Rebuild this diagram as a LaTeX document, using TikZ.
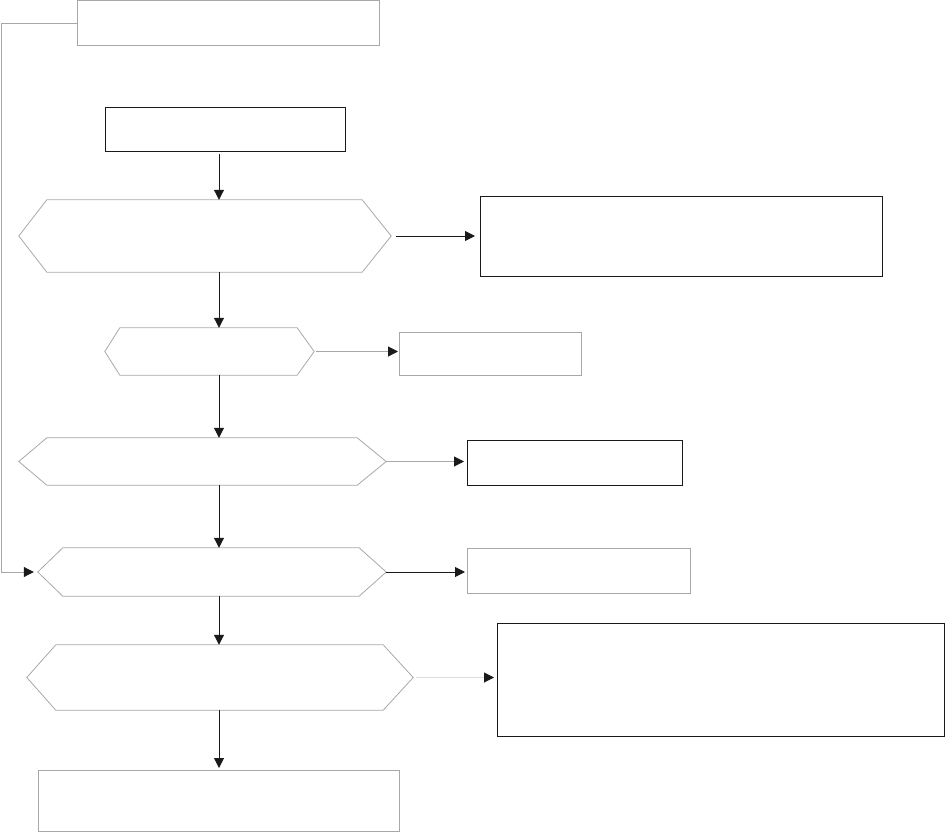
\documentclass[tikz,border=0pt]{standalone}
\usetikzlibrary{arrows.meta,calc}
\definecolor{ink}{HTML}{1A1A1A}
\definecolor{grayline}{HTML}{A8A8A8}
\definecolor{paleline}{HTML}{DCDCDC}
\begin{document}
\begin{tikzpicture}[x=1pt,y=-1pt,
  box/.style={draw=#1,line width=1pt,rectangle,inner sep=0pt,anchor=north west},
  hexarea/.style={rectangle,inner sep=0pt,draw=none},
  hexline/.style={draw=grayline,line width=0.8pt,line join=miter},
  conn/.style={draw=#1,line width=1pt,-{Triangle[length=10pt,width=10pt,fill=ink,color=ink]}},
]
\useasboundingbox (0,0) rectangle (945,832);
\coordinate (axis) at (219,0);
% rectangles
\node[box=grayline,minimum width=302pt,minimum height=45pt] (b1) at (77,0.5) {};
\node[box=ink,line width=1.2pt,minimum width=240pt,minimum height=44pt] (b2) at (105,107) {};
\node[box=ink,line width=1.2pt,minimum width=402pt,minimum height=80pt] (b3) at (480,196) {};
\node[box=grayline,minimum width=182pt,minimum height=43pt] (b4) at (399,332) {};
\node[box=ink,line width=1.2pt,minimum width=215pt,minimum height=45pt] (b5) at (467,440) {};
\node[box=grayline,minimum width=223pt,minimum height=45pt] (b6) at (467,548) {};
\node[box=ink,line width=1.2pt,minimum width=447pt,minimum height=113pt] (b7) at (497,623) {};
\node[box=grayline,minimum width=361pt,minimum height=61pt] (b8) at (38,770) {};
% hexagon areas
\node[hexarea,minimum width=372pt,minimum height=72pt] (h1) at (205,236) {};
\node[hexarea,minimum width=209pt,minimum height=47pt] (h2) at (209.5,351.5) {};
\node[hexarea,minimum width=367pt,minimum height=47pt] (h3) at (202.5,461.5) {};
\node[hexarea,minimum width=348pt,minimum height=48pt] (h4) at (212,572) {};
\node[hexarea,minimum width=386pt,minimum height=65pt] (h5) at (220,677.5) {};
\foreach \h/\l/\r in {h1/28/29,h2/15/17,h3/28/29,h4/25/27,h5/29/30}{
  \draw[hexline] (\h.west) -- ([xshift=\l pt]\h.north west) -- ([xshift=-\r pt]\h.north east)
    -- (\h.east) -- ([xshift=-\r pt]\h.south east) -- ([xshift=\l pt]\h.south west) -- cycle;
}
% vertical connectors
\draw[conn=ink] ($(b2.south -| axis)+(0,2)$) -- (h1.north -| axis);
\draw[conn=ink] (h1.south -| axis) -- (h2.north -| axis);
\draw[conn=ink] (h2.south -| axis) -- (h3.north -| axis);
\draw[conn=ink] (h3.south -| axis) -- (h4.north -| axis);
\draw[conn=ink] (h4.south -| axis) -- (h5.north -| axis);
\draw[conn=ink] (h5.south -| axis) -- ($(b8.north -| axis)+(0,-2)$);
% horizontal connectors
\draw[conn=ink,shorten >=5pt] ($(h1.east)+(5,0)$) -- (b3.west |- h1.east);
\draw[conn=grayline,shorten >=1pt] ($(h2.east)+(2,0)$) -- (b4.west |- h2.east);
\draw[conn=grayline,shorten >=3pt] ($(h3.east)+(0,0)$) -- (b5.west |- h3.east);
\draw[conn=ink,shorten >=2pt] ($(h4.east)+(0,0)$) -- (b6.west |- h4.east);
\draw[conn=paleline,shorten >=3pt] ($(h5.east)+(3,0)$) -- (b7.west |- h5.east);
% feedback loop
\coordinate (fbtop) at (1,24);
\draw[conn=grayline,shorten >=4pt] (b1.west |- fbtop) -- (fbtop) -- (fbtop |- h4.west) -- (h4.west);
\end{tikzpicture}
\end{document}
